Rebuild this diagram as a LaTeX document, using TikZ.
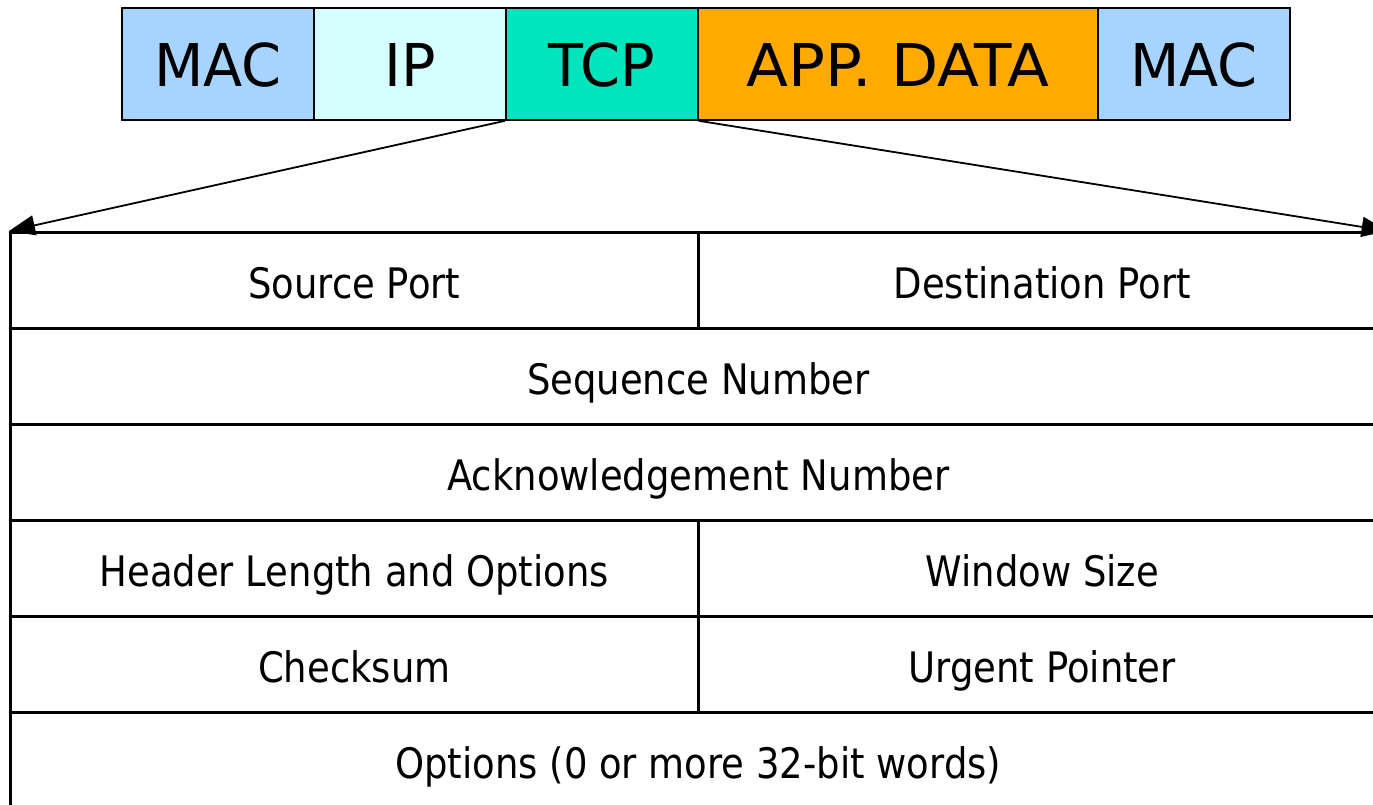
\documentclass[tikz,border=0pt]{standalone}
\usepackage{fontspec}
\newfontfamily\fieldfont[FakeStretch=0.88]{DejaVu Sans}
\newfontfamily\framefont[FakeStretch=0.97]{DejaVu Sans}
\usetikzlibrary{arrows.meta,positioning}

\definecolor{macblue}{RGB}{166,212,255}
\definecolor{ipcyan}{RGB}{213,255,255}
\definecolor{tcpgreen}{RGB}{0,229,189}
\definecolor{apporange}{RGB}{255,170,0}

\tikzset{
  seg/.style={draw=black, line width=1.8pt, minimum height=112pt, inner sep=0pt,
    text height=52pt, text depth=6pt,
    anchor=north west, font=\framefont\fontsize{59}{70}\selectfont},
  cell/.style={draw=black, line width=2.6pt, minimum height=96pt, inner sep=0pt,
    text height=40pt, text depth=4pt,
    anchor=north west, font=\fieldfont\fontsize{42}{50}\selectfont},
  half/.style={cell, minimum width=688pt},
  full/.style={cell, minimum width=1376pt},
  zoomline/.style={line width=1.8pt, -{Triangle[length=26pt,width=20pt]}}
}

\begin{document}
\begin{tikzpicture}[x=1pt,y=-1pt]
  \useasboundingbox (0,0) rectangle (1373,804);
  \fill[white] (0,0) rectangle (1373,804);
  \clip (0,0) rectangle (1373,804);

  % frame layout
  \node[seg, fill=macblue,   minimum width=192pt] (mac1) at (121,7)  {MAC};
  \node[seg, fill=ipcyan,    minimum width=192pt] (ip)   at (313,7)  {IP};
  \node[seg, fill=tcpgreen,  minimum width=192pt] (tcp)  at (505,7)  {TCP};
  \node[seg, fill=apporange, minimum width=400pt] (app)  at (697,7)  {\scalebox{1.07}[1]{APP. DATA}};
  \node[seg, fill=macblue,   minimum width=192pt] (mac2) at (1097,7) {MAC};

  % TCP header fields
  \node[half] (srcport) at (9,231)   {Source Port};
  \node[half] (dstport) at (697,231) {Destination Port};
  \node[full] (seqnum)  at (9,327)   {Sequence Number};
  \node[full] (acknum)  at (9,423)   {Acknowledgement Number};
  \node[half] (hdrlen)  at (9,519)   {Header Length and Options};
  \node[half] (window)  at (697,519) {Window Size};
  \node[half] (chksum)  at (9,615)   {Checksum};
  \node[half] (urgent)  at (697,615) {Urgent Pointer};
  \node[full] (options) at (9,711)   {Options (0 or more 32-bit words)};

  % expansion of the TCP segment
  \draw[zoomline] (tcp.south west) -- (srcport.north west);
  \draw[zoomline] (tcp.south east) -- (dstport.north east);
\end{tikzpicture}
\end{document}
